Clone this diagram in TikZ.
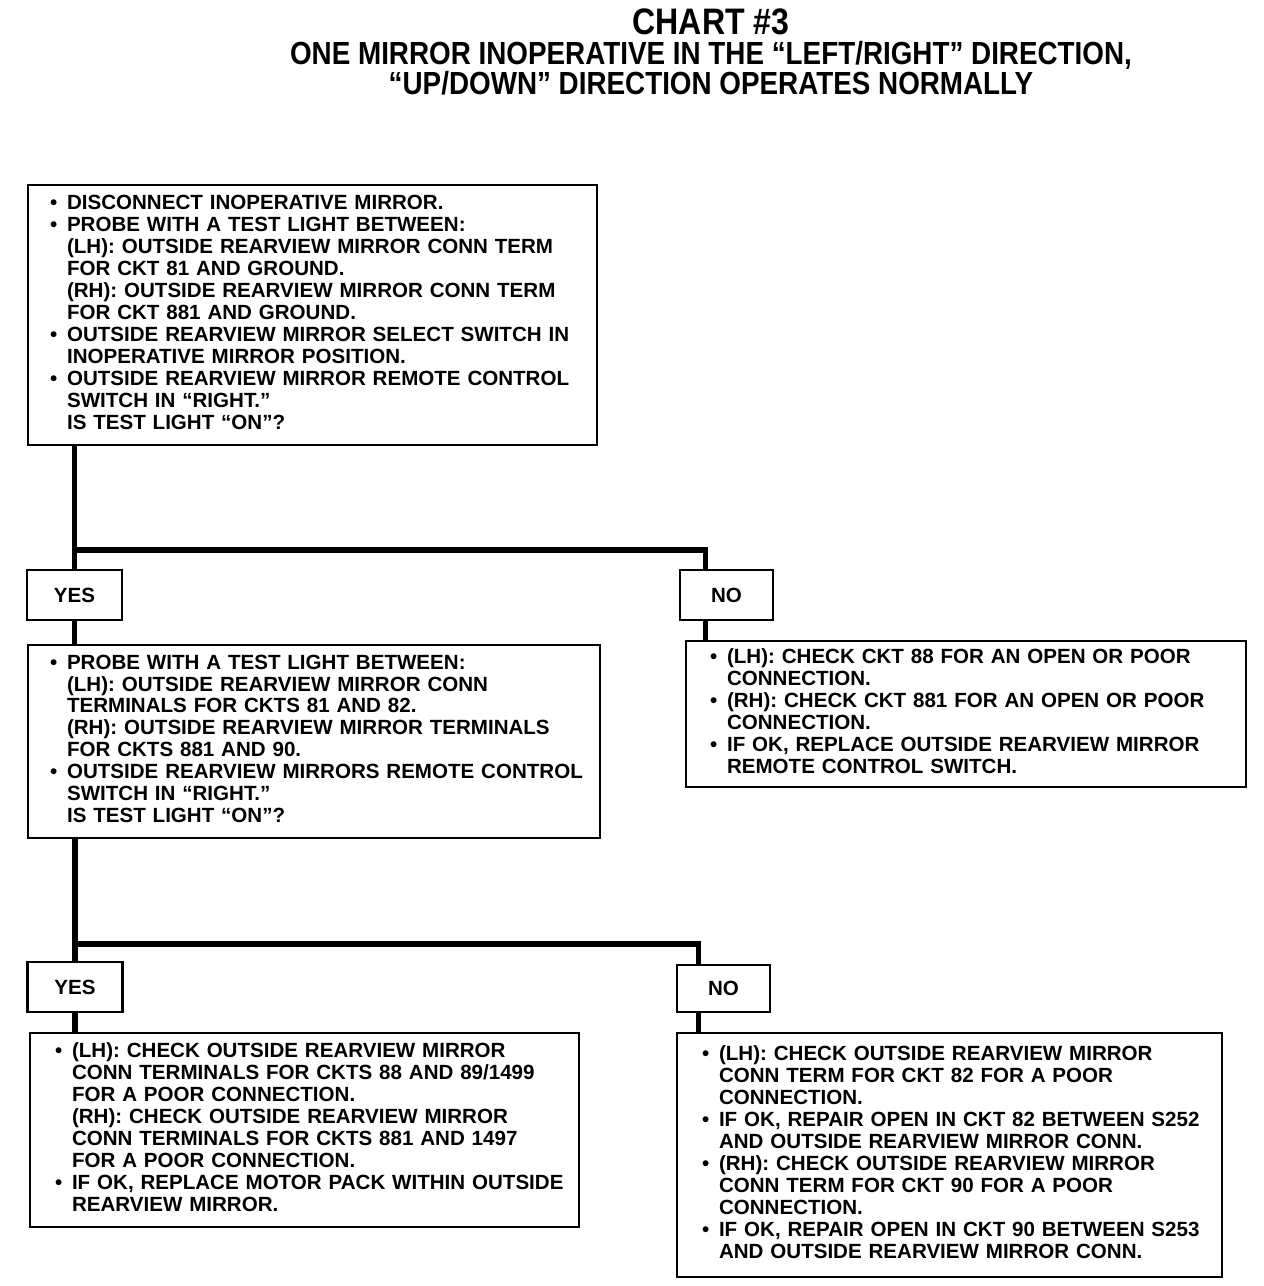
\documentclass[tikz,border=0pt]{standalone}
\usepackage{fontspec}
\setmainfont{Liberation Sans}
\newfontfamily\titlefont[FakeStretch=0.87]{Liberation Sans}
\usepackage{tikz}
\usetikzlibrary{positioning, calc}

\newcommand{\bul}{\makebox[0.34cm][l]{•}}
\newcommand{\ind}{\hspace*{0.34cm}}
\newenvironment{chartlines}{\begin{tabular}{@{}l@{}}}{\end{tabular}}

\tikzset{
  chartbox/.style={draw, line width=1.6pt, rectangle, align=left, inner ysep=0pt,
    font=\bfseries\fontsize{11.7}{12.5}\selectfont},
  answer/.style={draw, line width=1.6pt, minimum width=1.9cm, minimum height=1cm,
    font=\bfseries\fontsize{11.7}{12.5}\selectfont},
  conn/.style={line width=3.4pt},
}

\begin{document}
\begin{tikzpicture}[x=0.02cm, y=-0.02cm]
    \useasboundingbox (0,0) rectangle (1264,1286);
    % heading
    \node[align=center, font=\titlefont\bfseries\fontsize{18.2}{17}\selectfont] (title) at (711,52)
        {{\fontsize{21}{17.5}\selectfont CHART \#3}\\
         ONE MIRROR INOPERATIVE IN THE “LEFT/RIGHT” DIRECTION,\\
         “UP/DOWN” DIRECTION OPERATES NORMALLY};
    % first check
    \node[chartbox, inner xsep=0.44cm, text width=10.5cm, minimum height=5.2cm] (q1) at (312.5,315)
        {\begin{chartlines}
         \bul DISCONNECT INOPERATIVE MIRROR.\\
         \bul PROBE WITH A TEST LIGHT BETWEEN:\\
         \ind (LH): OUTSIDE REARVIEW MIRROR CONN TERM\\
         \ind FOR CKT 81 AND GROUND.\\
         \ind (RH): OUTSIDE REARVIEW MIRROR CONN TERM\\
         \ind FOR CKT 881 AND GROUND.\\
         \bul OUTSIDE REARVIEW MIRROR SELECT SWITCH IN\\
         \ind INOPERATIVE MIRROR POSITION.\\
         \bul OUTSIDE REARVIEW MIRROR REMOTE CONTROL\\
         \ind SWITCH IN “RIGHT.”\\
         \ind IS TEST LIGHT “ON”?
         \end{chartlines}};
    \node[answer] (yes1) at (74.5,595) {YES};
    \node[answer, minimum width=1.86cm] (no1) at (726.5,595) {NO};
    \coordinate (split1) at (0,550);
    \coordinate (noin1) at ($(no1.north)+(-21,0)$);
    % second check
    \node[chartbox, inner xsep=0.44cm, text width=10.56cm, minimum height=3.86cm] (q2) at (314,741.5)
        {\begin{chartlines}
         \bul PROBE WITH A TEST LIGHT BETWEEN:\\
         \ind (LH): OUTSIDE REARVIEW MIRROR CONN\\
         \ind TERMINALS FOR CKTS 81 AND 82.\\
         \ind (RH): OUTSIDE REARVIEW MIRROR TERMINALS\\
         \ind FOR CKTS 881 AND 90.\\
         \bul OUTSIDE REARVIEW MIRRORS REMOTE CONTROL\\
         \ind SWITCH IN “RIGHT.”\\
         \ind IS TEST LIGHT “ON”?
         \end{chartlines}};
    \node[chartbox, inner xsep=0.48cm, text width=10.24cm, minimum height=2.92cm] (r1) at (966,714)
        {\begin{chartlines}
         \bul (LH): CHECK CKT 88 FOR AN OPEN OR POOR\\
         \ind CONNECTION.\\
         \bul (RH): CHECK CKT 881 FOR AN OPEN OR POOR\\
         \ind CONNECTION.\\
         \bul IF OK, REPLACE OUTSIDE REARVIEW MIRROR\\
         \ind REMOTE CONTROL SWITCH.
         \end{chartlines}};
    \node[answer] (yes2) at (75,987) {YES};
    \node[answer, minimum width=1.86cm, minimum height=0.94cm] (no2) at (723.5,988.5) {NO};
    \coordinate (split2) at (0,944);
    \coordinate (noin2) at ($(no2.north)+(-25,0)$);
    % results
    \node[chartbox, inner xsep=0.5cm, text width=9.98cm, minimum height=3.88cm] (r2) at (304.5,1130)
        {\begin{chartlines}
         \bul (LH): CHECK OUTSIDE REARVIEW MIRROR\\
         \ind CONN TERMINALS FOR CKTS 88 AND 89/1499\\
         \ind FOR A POOR CONNECTION.\\
         \ind (RH): CHECK OUTSIDE REARVIEW MIRROR\\
         \ind CONN TERMINALS FOR CKTS 881 AND 1497\\
         \ind FOR A POOR CONNECTION.\\
         \bul IF OK, REPLACE MOTOR PACK WITHIN OUTSIDE\\
         \ind REARVIEW MIRROR.
         \end{chartlines}};
    \node[chartbox, inner xsep=0.5cm, text width=9.9cm, minimum height=4.88cm] (r3) at (949.5,1155)
        {\begin{chartlines}
         \bul (LH): CHECK OUTSIDE REARVIEW MIRROR\\
         \ind CONN TERM FOR CKT 82 FOR A POOR\\
         \ind CONNECTION.\\
         \bul IF OK, REPAIR OPEN IN CKT 82 BETWEEN S252\\
         \ind AND OUTSIDE REARVIEW MIRROR CONN.\\
         \bul (RH): CHECK OUTSIDE REARVIEW MIRROR\\
         \ind CONN TERM FOR CKT 90 FOR A POOR\\
         \ind CONNECTION.\\
         \bul IF OK, REPAIR OPEN IN CKT 90 BETWEEN S253\\
         \ind AND OUTSIDE REARVIEW MIRROR CONN.
         \end{chartlines}};
    % connectors
    \draw[conn] (q1.south -| yes1.north) -- (yes1.north);
    \draw[conn] (split1 -| yes1.north) -| (noin1);
    \draw[conn] (yes1.south) -- (yes1.south |- q2.north);
    \draw[conn] (no1.south -| noin1) -- (r1.north -| noin1);
    \draw[conn] (q2.south -| yes2.north) -- (yes2.north);
    \draw[conn] (split2 -| yes2.north) -| (noin2);
    \draw[conn] (yes2.south) -- (yes2.south |- r2.north);
    \draw[conn] (no2.south -| noin2) -- (r3.north -| noin2);
\end{tikzpicture}
\end{document}
